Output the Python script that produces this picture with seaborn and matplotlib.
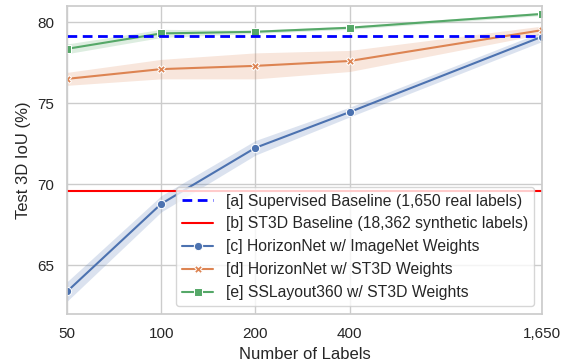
import numpy as np
import pandas as pd
import matplotlib
matplotlib.use("Agg")
import matplotlib.pyplot as plt
import seaborn as sns

labels = [50, 100, 200, 400, 1650]
tick_text = ["50", "100", "200", "400", "1,650"]

supervised_baseline = 79.15
st3d_baseline = 69.6

hn_imagenet = [63.4, 68.8, 72.25, 74.45, 79.1]
hn_imagenet_err = [0.6, 0.5, 0.45, 0.3, 0.3]
hn_st3d = [76.5, 77.1, 77.3, 77.6, 79.5]
hn_st3d_err = [0.4, 0.6, 0.8, 0.65, 0.25]
ssl_st3d = [78.35, 79.3, 79.4, 79.65, 80.5]
ssl_st3d_err = [0.3, 0.25, 0.1, 0.1, 0.1]

names = ["[c] HorizonNet w/ ImageNet Weights",
         "[d] HorizonNet w/ ST3D Weights",
         "[e] SSLayout360 w/ ST3D Weights"]

df = pd.DataFrame({
    "x": labels * 3,
    "y": hn_imagenet + hn_st3d + ssl_st3d,
    "method": [n for n in names for _ in labels],
})

sns.set_theme(style="whitegrid", context="notebook")
plt.rcParams['font.family'] = ['Liberation Sans', 'DejaVu Sans']
fig, ax = plt.subplots(figsize=(5.64, 3.64), dpi=100)
ax.set_xscale("log")

pal = sns.color_palette("deep")
sns.lineplot(data=df, x="x", y="y", hue="method", style="method",
             markers=["o", "X", "s"], dashes=False, palette=pal[:3], ax=ax)

# shaded bands
for vals, err, c in [(hn_imagenet, hn_imagenet_err, pal[0]),
                     (hn_st3d, hn_st3d_err, pal[1]),
                     (ssl_st3d, ssl_st3d_err, pal[2])]:
    v = np.array(vals); e = np.array(err)
    ax.fill_between(labels, v - e, v + e, color=c, alpha=0.2, lw=0)

la = ax.axhline(supervised_baseline, color="blue", ls=(0, (3.5, 2)), lw=2,
                label="[a] Supervised Baseline (1,650 real labels)")
lb = ax.axhline(st3d_baseline, color="red", lw=1.5,
                label="[b] ST3D Baseline (18,362 synthetic labels)")

ax.set_xlim(50, 1650)
ax.set_ylim(62, 81)
ax.set_xticks(labels)
ax.set_xticklabels(tick_text)
ax.minorticks_off()
ax.set_yticks([65, 70, 75, 80])
ax.set_xlabel("Number of Labels")
ax.set_ylabel("Test 3D IoU (%)")

h, l = ax.get_legend_handles_labels()
order = [l.index(la.get_label()), l.index(lb.get_label())] + [l.index(n) for n in names]
ax.legend([h[i] for i in order], [l[i] for i in order], loc="lower right", fontsize=11.3)

fig.subplots_adjust(left=0.119, right=0.961, top=0.984, bottom=0.137)
plt.savefig("out.png", dpi=100)
